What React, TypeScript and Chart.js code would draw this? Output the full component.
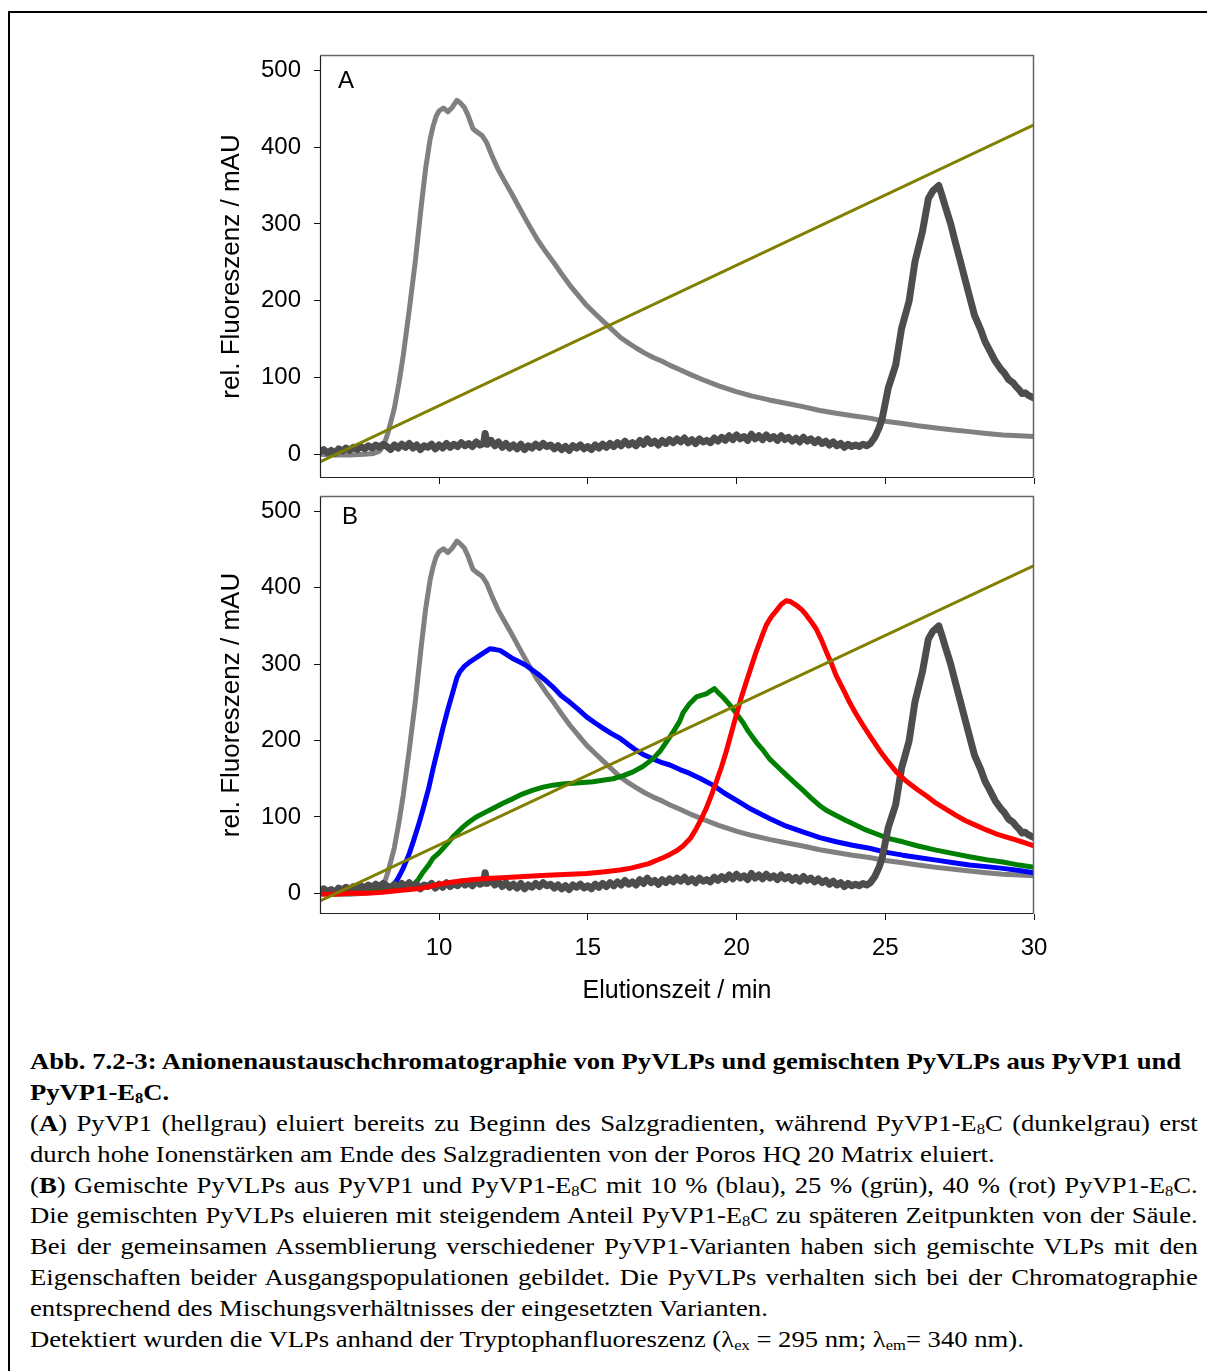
import React, { useEffect, useRef } from "react";
import { Chart, registerables } from "chart.js";

Chart.register(...registerables);

// ---------- axes ----------
const X_MIN = 6;
const X_MAX = 30;
const X_TICKS = [10, 15, 20, 25, 30];
const Y_TICKS = [0, 100, 200, 300, 400, 500];
const X_TITLE = "Elutionszeit / min";
const Y_TITLE = "rel. Fluoreszenz / mAU";

// ---------- salt gradient (olive) ----------
const gradientTime = [6, 30];
const gradientValue = [-10, 429];

// ---------- PyVP1 (light grey) ----------
const pyvp1Time = [6.0, 6.5, 7.0, 7.5, 7.8, 8.0, 8.15, 8.3, 8.5, 8.65, 8.8, 9.0, 9.2, 9.4, 9.55, 9.7, 9.8, 9.9, 10.0, 10.15, 10.3, 10.45, 10.6, 10.7, 10.85, 10.97, 11.14, 11.3, 11.45, 11.6, 11.8, 12.0, 12.2, 12.45, 12.7, 13.0, 13.3, 13.6, 13.85, 14.1, 14.4, 14.7, 14.96, 15.25, 15.52, 15.8, 16.1, 16.4, 16.64, 16.9, 17.2, 17.5, 17.75, 18.1, 18.5, 18.87, 19.4, 19.99, 20.5, 21.1, 21.7, 22.23, 22.8, 23.35, 23.9, 24.47, 25.0, 25.59, 26.1, 26.71, 27.3, 27.83, 28.4, 28.95, 29.5, 30.0];
const pyvp1Value = [0, -1, -1, 0, 1, 4, 12, 30, 60, 92, 129, 188, 250, 322, 372, 410, 427, 440, 447, 451, 446, 452, 461, 458, 452, 442, 424, 419, 415, 406, 387, 370, 356, 339, 321, 300, 280, 263, 250, 236, 220, 206, 194, 183, 173, 163, 152, 144, 138, 132, 126, 121, 116, 110, 103, 97, 89, 81.5, 76, 70.7, 66, 62, 57, 53.4, 50, 47, 43, 40, 37, 34, 31.5, 29.4, 27, 25, 24, 23];

// ---------- PyVP1-E8C (dark grey) ----------
const e8cTime = [
  6.0, 6.125, 6.25, 6.375, 6.5, 6.625, 6.75, 6.875, 7.0, 7.125, 7.25, 7.375, 7.5, 7.625, 7.75, 7.875,
  8.0, 8.125, 8.25, 8.375, 8.5, 8.625, 8.75, 8.875, 9.0, 9.125, 9.25, 9.375, 9.5, 9.625, 9.75, 9.875,
  10.0, 10.125, 10.25, 10.375, 10.5, 10.625, 10.75, 10.875, 11.0, 11.125, 11.25, 11.375, 11.5, 11.55, 11.625, 11.75, 11.875,
  12.0, 12.125, 12.25, 12.375, 12.5, 12.625, 12.75, 12.875, 13.0, 13.125, 13.25, 13.375, 13.5, 13.625, 13.75, 13.875,
  14.0, 14.125, 14.25, 14.375, 14.5, 14.625, 14.75, 14.875, 15.0, 15.125, 15.25, 15.375, 15.5, 15.625, 15.75, 15.875,
  16.0, 16.125, 16.25, 16.375, 16.5, 16.625, 16.75, 16.875, 17.0, 17.125, 17.25, 17.375, 17.5, 17.625, 17.75, 17.875,
  18.0, 18.125, 18.25, 18.375, 18.5, 18.625, 18.75, 18.875, 19.0, 19.125, 19.25, 19.375, 19.5, 19.625, 19.75, 19.875,
  20.0, 20.125, 20.25, 20.375, 20.5, 20.625, 20.75, 20.875, 21.0, 21.125, 21.25, 21.375, 21.5, 21.625, 21.75, 21.875,
  22.0, 22.125, 22.25, 22.375, 22.5, 22.625, 22.75, 22.875, 23.0, 23.125, 23.25, 23.375, 23.5, 23.625, 23.75, 23.875,
  24.0, 24.125, 24.25, 24.375, 24.5, 24.65, 24.8, 24.9, 25.1, 25.35, 25.55, 25.8, 26.0, 26.25, 26.45, 26.6, 26.8, 26.9,
  27.0, 27.2, 27.35, 27.5, 27.7, 27.85, 28.0, 28.2, 28.35, 28.5, 28.7, 28.9, 29.0, 29.15, 29.3, 29.4, 29.5, 29.6, 29.7, 29.8, 29.9, 30.0,
];
const e8cValue = [
  3, 6, 2, 5, 1, 7, 4, 8, 5, 9, 6, 10, 7, 11, 8, 12,
  9, 13, 10, 6, 12, 8, 13, 9, 14, 8, 12, 6, 11, 9, 13, 7,
  12, 8, 14, 9, 13, 10, 15, 11, 14, 10, 16, 12, 14, 27, 13, 18, 11,
  16, 9, 14, 8, 12, 7, 13, 6, 11, 8, 13, 9, 14, 10, 12, 7,
  11, 6, 10, 5, 11, 8, 12, 7, 10, 6, 12, 8, 13, 9, 14, 10,
  15, 11, 17, 12, 15, 11, 18, 13, 20, 14, 17, 12, 18, 14, 19, 15,
  20, 16, 21, 15, 19, 14, 20, 16, 18, 15, 21, 17, 22, 18, 24, 19,
  25, 20, 23, 18, 26, 20, 24, 19, 25, 20, 23, 18, 24, 19, 22, 17,
  21, 16, 22, 17, 20, 15, 19, 14, 17, 12, 16, 11, 14, 9, 13, 10,
  12, 10, 13, 11, 14, 22, 35, 47, 86, 116, 164, 199, 251, 290, 333, 343, 350, 338,
  325, 300, 277, 255, 225, 203, 181, 163, 147, 136, 121, 110, 106, 97, 93, 88, 84, 79, 80, 77, 75, 73,
];

// ---------- 10 % PyVP1-E8C (blue) ----------
const blueTime = [6.0, 6.5, 7.0, 7.5, 8.0, 8.3, 8.46, 8.6, 8.8, 9.0, 9.13, 9.3, 9.47, 9.65, 9.8, 10.0, 10.13, 10.3, 10.47, 10.6, 10.7, 10.85, 11.04, 11.2, 11.37, 11.55, 11.71, 11.9, 12.05, 12.25, 12.49, 12.7, 12.94, 13.15, 13.39, 13.6, 13.83, 14.1, 14.4, 14.7, 14.96, 15.25, 15.52, 15.8, 16.08, 16.35, 16.64, 16.9, 17.19, 17.5, 17.76, 18.1, 18.43, 18.8, 19.21, 19.6, 19.99, 20.5, 21.11, 21.6, 22.23, 22.8, 23.35, 23.9, 24.47, 25.0, 25.59, 26.1, 26.71, 27.3, 27.83, 28.4, 28.95, 29.5, 30.0];
const blueValue = [3, 3, 4, 5, 6, 8, 11, 18, 33, 52, 67, 88, 111, 137, 163, 195, 216, 241, 264, 282, 290, 297, 303, 307, 311.5, 316, 320, 319, 318, 313, 307, 303, 298, 292, 285, 278, 270, 259, 250, 240, 231, 223, 216, 209, 203, 195, 187, 181, 176, 171, 168, 162, 157, 150, 141.6, 131, 122, 110, 98, 89, 80.5, 73, 67.5, 63, 59, 54, 50, 47, 43.5, 40, 37, 35, 32.7, 30, 27];

// ---------- 25 % PyVP1-E8C (green) ----------
const greenTime = [6.0, 6.5, 7.0, 7.5, 8.0, 8.5, 8.9, 9.13, 9.3, 9.47, 9.65, 9.8, 10.0, 10.14, 10.3, 10.47, 10.65, 10.81, 11.0, 11.25, 11.5, 11.81, 12.15, 12.49, 12.8, 13.16, 13.5, 13.83, 14.15, 14.51, 14.85, 15.18, 15.5, 15.85, 16.2, 16.52, 16.85, 17.19, 17.45, 17.64, 17.9, 18.09, 18.2, 18.4, 18.65, 18.98, 19.1, 19.26, 19.4, 19.54, 19.7, 19.87, 20.0, 20.21, 20.4, 20.66, 20.9, 21.11, 21.4, 21.67, 21.95, 22.23, 22.5, 22.79, 23.05, 23.35, 23.7, 24.02, 24.35, 24.69, 25.1, 25.59, 26.1, 26.71, 27.3, 27.83, 28.4, 28.95, 29.5, 30.0];
const greenValue = [2, 2, 3, 3, 4, 5, 7, 11, 18, 28, 37, 46, 53, 59, 66, 74, 81, 87, 93, 100, 105, 111, 118, 124, 130, 135, 139, 141.6, 143, 144, 145, 146, 148, 150, 154, 159, 166, 176, 187, 198, 213, 225, 236, 247, 257, 261, 264, 268, 262, 257, 250, 242, 235, 224, 212, 198, 187, 176, 165, 155, 145, 135, 125, 115, 108, 102, 95, 89, 83, 78, 72, 67.5, 62, 56.6, 52, 48, 44, 41, 37, 34];

// ---------- 40 % PyVP1-E8C (red) ----------
const redTime = [6.0, 6.5, 7.0, 7.5, 8.0, 8.5, 9.0, 9.36, 9.7, 10.0, 10.47, 11.0, 11.59, 12.1, 12.71, 13.3, 13.83, 14.4, 14.96, 15.5, 16.08, 16.45, 16.75, 17.05, 17.3, 17.55, 17.76, 18.0, 18.2, 18.45, 18.65, 18.8, 18.98, 19.15, 19.32, 19.5, 19.65, 19.82, 19.99, 20.15, 20.33, 20.5, 20.66, 20.85, 21.0, 21.17, 21.34, 21.5, 21.67, 21.8, 22.01, 22.2, 22.35, 22.5, 22.68, 22.85, 23.02, 23.2, 23.35, 23.6, 23.8, 24.0, 24.25, 24.5, 24.81, 25.1, 25.37, 25.7, 26.04, 26.4, 26.71, 27.05, 27.38, 27.7, 28.05, 28.4, 28.72, 29.05, 29.39, 29.7, 30.0];
const redValue = [-1, -1, 0, 0, 1, 3, 5, 6.5, 9, 12, 15, 17.5, 19.6, 20.5, 21.7, 23, 24, 25, 26, 28, 30.5, 33, 36, 39, 43, 47, 51, 56, 62, 72, 85, 96, 111, 128, 146, 166, 185, 209, 233, 255, 277, 297, 316, 336, 351, 362, 370, 378, 383, 382, 377, 371, 364, 356, 346, 332, 316, 300, 285, 266, 250, 236, 220, 205, 187, 172, 159, 147, 137, 127, 118, 110, 102, 95, 89, 83, 78, 74, 70, 66, 62];

const FONT = "'Liberation Sans', Arial, Helvetica, sans-serif";

function pts(t: number[], v: number[]) {
  return t.map((x, i) => ({ x, y: v[i] }));
}

function line(t: number[], v: number[], color: string, width: number) {
  return {
    data: pts(t, v),
    borderColor: color,
    backgroundColor: color,
    borderWidth: width,
    pointRadius: 0,
    tension: 0,
    fill: false,
    borderCapStyle: "round",
    borderJoinStyle: "round",
  };
}

type PanelProps = {
  left: number;
  top: number;
  width: number;
  height: number;
  yMin: number;
  yMax: number;
  xAxisHeight: number;
  showXLabels: boolean;
  label: string;
  labelDX: number;
  labelDY: number;
  datasets: any[];
};

function zeroPad(s: any) {
  s.paddingTop = 0;
  s.paddingBottom = 0;
  s.paddingLeft = 0;
  s.paddingRight = 0;
}

function Panel(p: PanelProps) {
  const ref = useRef<HTMLCanvasElement | null>(null);
  useEffect(() => {
    if (!ref.current) return;
    const framePlugin = {
      id: "frame",
      afterDatasetsDraw(chart: any) {
        const { ctx, chartArea } = chart;
        const l = Math.round(chartArea.left) + 0.5;
        const r = Math.round(chartArea.right) - 0.5;
        const t = Math.round(chartArea.top) + 0.5;
        const b = Math.round(chartArea.bottom) - 0.5;
        ctx.save();
        ctx.lineWidth = 1.5;
        ctx.strokeStyle = "#666666";
        ctx.beginPath();
        ctx.moveTo(l, t);
        ctx.lineTo(r, t);
        ctx.lineTo(r, b);
        ctx.stroke();
        ctx.strokeStyle = "#222222";
        ctx.lineWidth = 1.2;
        ctx.beginPath();
        ctx.moveTo(l, t);
        ctx.lineTo(l, b);
        ctx.lineTo(r, b);
        ctx.stroke();
        ctx.fillStyle = "#000";
        ctx.font = `24px ${FONT}`;
        ctx.textBaseline = "alphabetic";
        ctx.textAlign = "left";
        ctx.fillText(p.label, chartArea.left + p.labelDX, chartArea.top + p.labelDY);
        ctx.restore();
      },
    };
    const chart = new Chart(ref.current, {
      type: "line",
      data: { datasets: p.datasets },
      plugins: [framePlugin],
      options: {
        animation: false,
        responsive: false,
        maintainAspectRatio: false,
        devicePixelRatio: 1,
        layout: { padding: { left: 0, right: 26, top: 15, bottom: 0 } },
        plugins: { legend: { display: false }, tooltip: { enabled: false } },
        scales: {
          x: {
            type: "linear",
            min: X_MIN,
            max: X_MAX,
            afterBuildTicks: (s: any) => {
              s.ticks = X_TICKS.map((v) => ({ value: v }));
            },
            afterFit: (s: any) => {
              s.height = p.xAxisHeight;
              zeroPad(s);
            },
            grid: { drawOnChartArea: false, drawTicks: true, tickLength: 6, color: "#111" },
            border: { display: false },
            ticks: {
              display: p.showXLabels,
              autoSkip: false,
              maxRotation: 0,
              padding: 14,
              color: "#000",
              font: { family: FONT, size: 24 },
            },
            title: {
              display: p.showXLabels,
              text: X_TITLE,
              color: "#000",
              font: { family: FONT, size: 25 },
              padding: { top: 0, bottom: 8 },
            },
          },
          y: {
            type: "linear",
            min: p.yMin,
            max: p.yMax,
            afterBuildTicks: (s: any) => {
              s.ticks = Y_TICKS.map((v) => ({ value: v }));
            },
            afterFit: (s: any) => {
              s.width = 170;
              zeroPad(s);
            },
            grid: { drawOnChartArea: false, drawTicks: true, tickLength: 6, color: "#111" },
            border: { display: false },
            ticks: {
              autoSkip: false,
              padding: 13,
              color: "#000",
              font: { family: FONT, size: 24 },
            },
            title: {
              display: true,
              text: Y_TITLE,
              color: "#000",
              font: { family: FONT, size: 26 },
              padding: { top: 66.4, bottom: 0 },
            },
          },
        },
      } as any,
    } as any);
    return () => chart.destroy();
  }, []);
  return (
    <canvas
      ref={ref}
      width={p.width}
      height={p.height}
      style={{ position: "absolute", left: p.left, top: p.top, width: p.width, height: p.height }}
    />
  );
}

const OLIVE = "#808000";
const LIGHT = "#808080";
const DARK = "#4d4d4d";
const BLUE = "#0000ff";
const GREEN = "#008000";
const RED = "#ff0000";

const Sub = ({ children }: { children: React.ReactNode }) => (
  <sub style={{ fontSize: "0.62em", verticalAlign: "-0.22em", lineHeight: 0 }}>{children}</sub>
);

const lineStyle: React.CSSProperties = { height: 30.9, lineHeight: "30.9px", overflow: "visible" };
const just: React.CSSProperties = { ...lineStyle, textAlign: "justify", textAlignLast: "justify" } as any;
const plain: React.CSSProperties = { ...lineStyle, textAlign: "left", whiteSpace: "nowrap" };

export default function App() {
  const datasetsA = [
    line(gradientTime, gradientValue, OLIVE, 3),
    line(e8cTime, e8cValue, DARK, 7),
    line(pyvp1Time, pyvp1Value, LIGHT, 5),
  ];
  const datasetsB = [
    line(gradientTime, gradientValue, OLIVE, 3),
    line(redTime, redValue, RED, 5),
    line(e8cTime, e8cValue, DARK, 7),
    line(greenTime, greenValue, GREEN, 5),
    line(blueTime, blueValue, BLUE, 5),
    line(pyvp1Time, pyvp1Value, LIGHT, 5),
  ];
  return (
    <div
      style={{
        position: "fixed",
        left: 0,
        top: 0,
        width: 1207,
        height: 1371,
        overflow: "hidden",
        background: "#fff",
      }}
    >
      <div
        style={{
          position: "absolute",
          left: 8,
          top: 11,
          width: 1400,
          height: 1500,
          borderTop: "2px solid #000",
          borderLeft: "2px solid #000",
        }}
      />
      <Panel
        left={150}
        top={40}
        width={910}
        height={448}
        yMin={-31}
        yMax={520}
        xAxisHeight={10}
        showXLabels={false}
        label="A"
        labelDX={18}
        labelDY={32.5}
        datasets={datasetsA}
      />
      <Panel
        left={150}
        top={481}
        width={910}
        height={533}
        yMin={-27}
        yMax={520}
        xAxisHeight={100}
        showXLabels={true}
        label="B"
        labelDX={22}
        labelDY={28}
        datasets={datasetsB}
      />
      <div
        style={{
          position: "absolute",
          left: 30,
          top: 1046,
          width: 1052,
          transform: "scaleX(1.11)",
          transformOrigin: "0 0",
          fontFamily: "'Liberation Serif', 'Times New Roman', serif",
          fontSize: 24,
          color: "#000",
        }}
      >
        <div style={{ ...plain, fontWeight: "bold" }}>
          Abb. 7.2-3: Anionenaustauschchromatographie von PyVLPs und gemischten PyVLPs aus PyVP1 und
        </div>
        <div style={{ ...plain, fontWeight: "bold" }}>
          PyVP1-E<Sub>8</Sub>C.
        </div>
        <div style={just}>
          (<b>A</b>) PyVP1 (hellgrau) eluiert bereits zu Beginn des Salzgradienten, während PyVP1-E<Sub>8</Sub>C (dunkelgrau) erst
        </div>
        <div style={plain}>
          durch hohe Ionenstärken am Ende des Salzgradienten von der Poros HQ 20 Matrix eluiert.
        </div>
        <div style={just}>
          (<b>B</b>) Gemischte PyVLPs aus PyVP1 und PyVP1-E<Sub>8</Sub>C mit 10 % (blau), 25 % (grün), 40 % (rot) PyVP1-E<Sub>8</Sub>C.
        </div>
        <div style={just}>
          Die gemischten PyVLPs eluieren mit steigendem Anteil PyVP1-E<Sub>8</Sub>C zu späteren Zeitpunkten von der Säule.
        </div>
        <div style={just}>
          Bei der gemeinsamen Assemblierung verschiedener PyVP1-Varianten haben sich gemischte VLPs mit den
        </div>
        <div style={just}>
          Eigenschaften beider Ausgangspopulationen gebildet. Die PyVLPs verhalten sich bei der Chromatographie
        </div>
        <div style={plain}>entsprechend des Mischungsverhältnisses der eingesetzten Varianten.</div>
        <div style={plain}>
          Detektiert wurden die VLPs anhand der Tryptophanfluoreszenz (λ<Sub>ex</Sub> = 295 nm; λ<Sub>em</Sub>= 340 nm).
        </div>
      </div>
    </div>
  );
}
